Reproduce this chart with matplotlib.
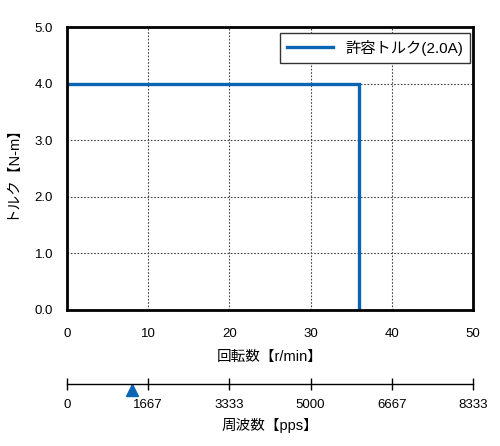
import matplotlib
matplotlib.use("Agg")
import matplotlib.pyplot as plt

plt.rcParams["font.family"] = ["Liberation Sans", "Noto Sans CJK JP", "DejaVu Sans"]

# === data ===
speed_rpm = [0, 36, 36]
torque_nm = [4.0, 4.0, 0.0]
series_label = "許容トルク(2.0A)"

x_ticks = [0, 10, 20, 30, 40, 50]
y_ticks = [0.0, 1.0, 2.0, 3.0, 4.0, 5.0]
freq_ticks = [0, 1667, 3333, 5000, 6667, 8333]
freq_marker = 1333

line_color = "#0a64b4"

fig = plt.figure(figsize=(5.0, 4.46), dpi=100)

# === main torque chart ===
ax = fig.add_axes([67 / 500, 1 - 310 / 446, 406 / 500, 283 / 446])
ax.plot(speed_rpm, torque_nm, color=line_color, lw=2.4, label=series_label,
        solid_joinstyle="miter")
ax.set_xlim(0, 50)
ax.set_ylim(0, 5)
ax.set_xticks(x_ticks)
ax.set_yticks(y_ticks)
ax.set_xticklabels([str(v) for v in x_ticks])
ax.set_yticklabels([f"{v:.1f}" for v in y_ticks])
ax.tick_params(length=0, labelsize=9.5, pad=13)
ax.tick_params(axis="y", pad=10)
ax.grid(True, color="#444444", linestyle=(0, (1.5, 1.5)), lw=0.8)
for sp in ax.spines.values():
    sp.set_linewidth(2)
ax.set_xlabel("回転数【r/min】", fontsize=10.5, labelpad=7)
ax.set_ylabel("トルク【N-m】", fontsize=10.5, labelpad=12)
leg = ax.legend(loc="upper right", fontsize=11, fancybox=False, framealpha=1,
                edgecolor="#333333", handlelength=3.0, borderpad=0.45,
                borderaxespad=0, bbox_to_anchor=(0.993, 0.979))
leg.get_frame().set_linewidth(1)

# === frequency scale ===
ax2 = fig.add_axes([67 / 500, 1 - 384 / 446, 406 / 500, 0.05])
ax2.set_xlim(0, 8333.3)
ax2.set_ylim(0, 1)
for name in ["top", "left", "right"]:
    ax2.spines[name].set_visible(False)
ax2.spines["bottom"].set_linewidth(1)
ax2.set_yticks([])
ax2.set_xticks(freq_ticks)
ax2.set_xticklabels([str(v) for v in freq_ticks])
ax2.tick_params(axis="x", direction="inout", length=9, width=1, labelsize=9.5, pad=6)
ax2.patch.set_alpha(0)
ax2.plot([freq_marker], [-0.25], marker="^", markersize=9, color=line_color,
         clip_on=False, linestyle="none")
ax2.set_xlabel("周波数【pps】", fontsize=10.5, labelpad=5)

fig.savefig("out.png", dpi=100)
